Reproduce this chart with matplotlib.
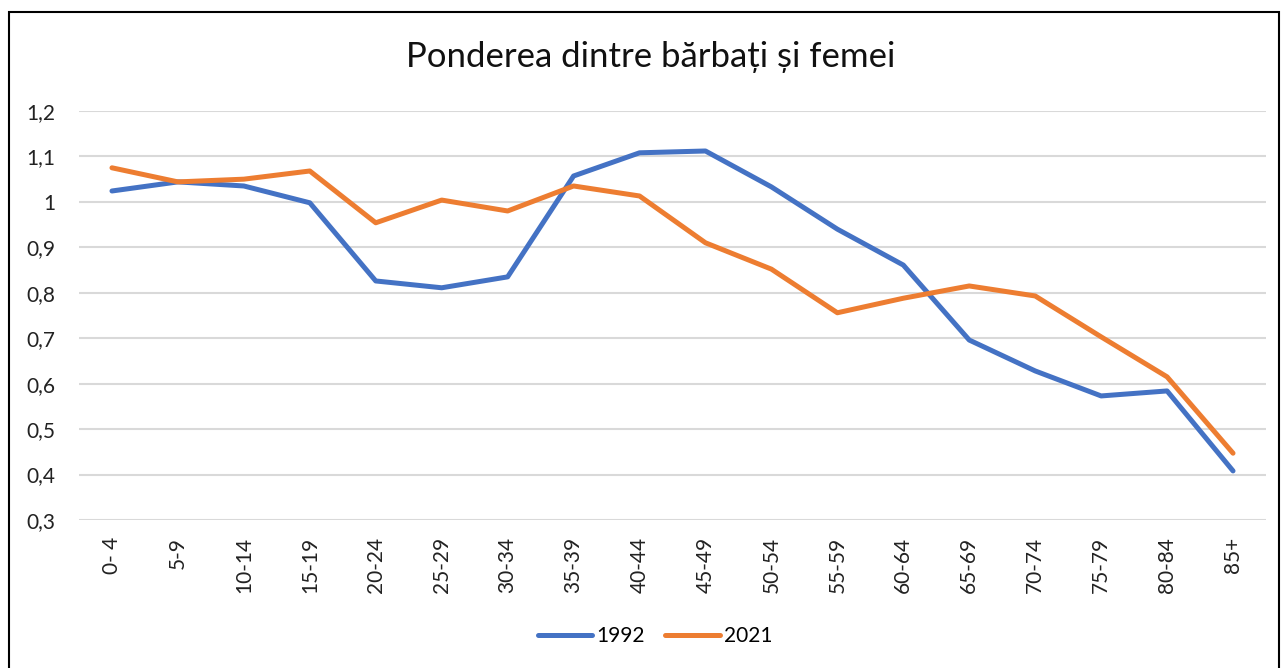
import matplotlib
matplotlib.use("Agg")
import matplotlib.pyplot as plt
from matplotlib.patches import Rectangle
from matplotlib.ticker import FuncFormatter

categories = ["0- 4", "5-9", "10-14", "15-19", "20-24", "25-29", "30-34", "35-39",
              "40-44", "45-49", "50-54", "55-59", "60-64", "65-69", "70-74",
              "75-79", "80-84", "85+"]
s1992 = [1.024, 1.044, 1.035, 0.998, 0.826, 0.811, 0.835, 1.057, 1.108, 1.112,
         1.033, 0.940, 0.861, 0.696, 0.628, 0.573, 0.584, 0.408]
s2021 = [1.075, 1.044, 1.050, 1.068, 0.954, 1.004, 0.980, 1.035, 1.013, 0.910,
         0.852, 0.756, 0.788, 0.815, 0.793, 0.703, 0.615, 0.447]
yticks = [0.3, 0.4, 0.5, 0.6, 0.7, 0.8, 0.9, 1.0, 1.1, 1.2]

plt.rcParams['font.family'] = ['Lato', 'DejaVu Sans']

W, H = 1282, 668
fig = plt.figure(figsize=(W / 100, H / 100), dpi=100)
fig.patch.set_facecolor('white')

# outer border
fig.add_artist(Rectangle((9 / W, -0.05), (1279 - 9) / W, 1.05 - 12 / H,
                         transform=fig.transFigure, fill=False,
                         edgecolor='black', linewidth=1.5))

left, right, top, bottom = 79, 1266, 111, 520
ax = fig.add_axes([left / W, 1 - bottom / H, (right - left) / W, (bottom - top) / H])

x = list(range(len(categories)))
ax.plot(x, s1992, color='#4472C4', linewidth=3.6, solid_joinstyle='round',
        solid_capstyle='round', label='1992', zorder=3)
ax.plot(x, s2021, color='#ED7D31', linewidth=3.6, solid_joinstyle='round',
        solid_capstyle='round', label='2021', zorder=3)

ax.set_xlim(-0.5, len(categories) - 0.5)
ax.set_ylim(0.3, 1.2)
ax.set_yticks(yticks)
ax.yaxis.set_major_formatter(FuncFormatter(
    lambda v, p: ('%g' % round(v, 1)).replace('.', ',')))
ax.set_xticks(x)
ax.set_xticklabels(categories, rotation=90, fontsize=15, color='#222222')
ax.tick_params(axis='y', labelsize=15, colors='#222222', length=0, pad=17)
ax.tick_params(axis='x', length=0, pad=12)
ax.grid(axis='y', color='#D9D9D9', linewidth=1.5)
ax.set_axisbelow(True)
for s in ax.spines.values():
    s.set_visible(False)

fig.text(651 / W, 1 - 57 / H, 'Ponderea dintre bărbați și femei', ha='center',
         va='center', fontsize=25, color='#111111')

leg = fig.legend(loc='center', bbox_to_anchor=(655 / W, 1 - 636 / H), ncol=2,
                 frameon=False, fontsize=15, handlelength=2.6, columnspacing=1.0,
                 handletextpad=0.2)

fig.savefig('out.png', dpi=100)
